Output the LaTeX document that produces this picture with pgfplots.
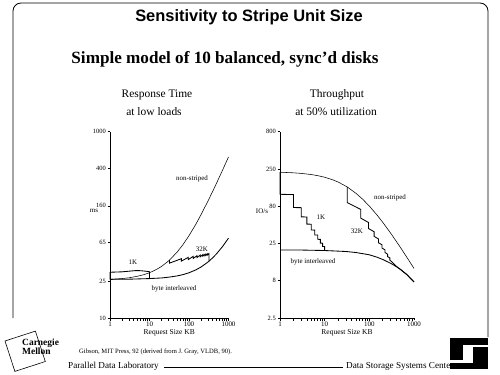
\documentclass[border=0pt]{standalone}
\usepackage{fontspec}
\setmainfont{Liberation Serif}
\newfontfamily\hel{Liberation Sans}
\usepackage{pgfplots}
\pgfplotsset{compat=1.18}
\newcommand{\fsz}[1]{\fontsize{#1}{#1}\selectfont}
\tikzset{
  lnthin/.style={black, line width=0.55bp, line join=round},
  lnmed/.style={black, line width=0.85bp, line join=miter},
}
\begin{document}
\begin{tikzpicture}
\fill[white] (0,0) rectangle (500bp,-375bp);
\useasboundingbox (0,0) rectangle (500bp,-375bp);
% slide border
\draw[black, line width=0.8bp] (13bp,-318bp) -- (13bp,-11bp) arc[start angle=180, end angle=90, radius=8bp] -- (480bp,-3bp) arc[start angle=90, end angle=0, radius=8bp] -- (488bp,-337bp);
% titles
\node at (249bp,-17bp) {\hel\bfseries\fsz{16.5}Sensitivity to Stripe Unit Size};
\node at (225bp,-59bp) {\bfseries\fsz{17.2}Simple model of 10 balanced, sync'd disks};
\node at (157bp,-95bp) {\fsz{11.5}Response Time};
\node at (154bp,-112bp) {\fsz{11.5}at low loads};
\node at (337bp,-95bp) {\fsz{11.5}Throughput};
\node at (336bp,-112bp) {\fsz{11.5}at 50\% utilization};

% ---------------- left: response time
\begin{loglogaxis}[at={(110bp,-318bp)}, anchor=south west,
  scale only axis, width=118.5bp, height=186.3bp,
  axis x line*=bottom, axis y line*=left,
  axis line style={black, line width=0.8pt},
  xmin=1, xmax=1000,
  xtick={1,10,100,1000}, xticklabels={1,10,100,1000},
  ymin=10, ymax=1000,
  ytick={10,25,65,160,400,1000}, yticklabels={10,25,65,160,400,1000},
  minor xtick={}, minor ytick={},
  tick align=outside, major tick length=2.5bp,
  tick style={black, line width=0.6pt},
  x tick label style={font=\fsz{7}, inner sep=1.5pt},
  y tick label style={font=\fsz{6.5}, inner sep=1.5pt},
  xlabel={Request Size KB},
  xlabel style={font=\fsz{7.5}, inner sep=1pt},
  clip=false]
% non-striped
\addplot[lnthin] coordinates {(1,26.0)(1.5,26.3)(2,26.5)(3,27.0)(5,28.1)(7,29.1)(10,30.6)(15,33.2)(20,35.7)(30,40.8)(32,41.8)(50,51.0)(70,61.2)(100,76.5)(150,102)(200,128)(300,179)(400,230)(500,281)(700,383)(1000,536)};
% byte interleaved
\addplot[lnmed] coordinates {(1,26.0)(3,26.1)(10,26.5)(20,26.9)(30,27.4)(50,28.3)(70,29.2)(100,30.6)(150,32.9)(200,35.2)(300,39.8)(320,40.7)(400,44.4)(500,49.0)(700,58.2)(1000,72.0)};
% 1K
\addplot[lnmed] coordinates {(1,26.0)(1,31.0)(2,31.3)(3,31.8)(4.5,32.3)(6,32.2)(8,31.8)(10,31.4)(10,26.5)};
% 32K
\addplot[lnmed] coordinates {(32,41.8)(32,38.8)(64,43.3)(64,40.8)(96,44.8)(96,42.4)(128,45.9)(128,43.6)(160,46.7)(160,44.6)(192,47.4)(192,45.4)(224,47.9)(224,46.1)(256,48.4)(256,46.7)(288,48.8)(288,47.2)(320,49.1)(320,40.7)};
\end{loglogaxis}

% ---------------- right: throughput
\begin{loglogaxis}[at={(280bp,-318bp)}, anchor=south west,
  scale only axis, width=134bp, height=186.3bp,
  axis x line*=bottom, axis y line*=left,
  axis line style={black, line width=0.8pt},
  xmin=1, xmax=1000,
  xtick={1,10,100,1000}, xticklabels={1,10,100,1000},
  ymin=2.5, ymax=800,
  ytick={2.5,8,25,80,250,800}, yticklabels={2.5,8,25,80,250,800},
  minor xtick={}, minor ytick={},
  tick align=outside, major tick length=2.5bp,
  tick style={black, line width=0.6pt},
  x tick label style={font=\fsz{7}, inner sep=1.5pt},
  y tick label style={font=\fsz{6.5}, inner sep=1.5pt},
  xlabel={Request Size KB},
  xlabel style={font=\fsz{7.5}, inner sep=1pt},
  clip=false]
% non-striped
\addplot[lnthin] coordinates {(1,228.2)(2,224)(3,220)(5,212.3)(7,205.2)(10,195.3)(15,180.8)(20,168.4)(30,147.9)(32,144.4)(50,119)(70,99.6)(100,80)(150,60.2)(200,48.3)(300,34.6)(500,22.1)(700,16.2)(1000,11.6)};
% byte interleaved
\addplot[lnmed] coordinates {(1,20.5)(3,20.5)(10,20.2)(30,19.6)(50,19.0)(100,17.7)(150,16.4)(200,15.3)(300,13.6)(400,12.3)(500,11.2)(700,9.5)(1000,7.6)};
% 1K
\addplot[lnmed] coordinates {(1,228.2)(1,115.2)(2,114.1)(2,76.5)(3,76.1)(3,57.3)(4,57.05)(4,45.8)(5,45.6)(5,38.15)(6,38.0)(6,32.7)(7,32.6)(7,28.6)(8,28.5)(8,25.4)(9,25.35)(9,22.86)(10,22.82)(10,20.2)};
% 32K
\addplot[lnmed] coordinates {(32,144.4)(32,89.1)(64,72.2)(64,55.1)(96,48.1)(96,39.9)(128,36.1)(128,31.3)(160,28.9)(160,25.7)(192,24.1)(192,21.8)(224,20.6)(224,19.0)(256,18.05)(256,16.75)(288,16.05)(288,15.0)(320,14.2)(360,13.2)(400,12.4)(500,11.25)(700,9.55)(1000,7.65)};
\end{loglogaxis}

% axis titles
\node at (94bp,-211bp) {\fsz{7}ms};
\node at (262bp,-211bp) {\fsz{7}IO/s};
% curve labels left
\node at (192bp,-179bp) {\fsz{7}non-striped};
\node at (133bp,-262bp) {\fsz{7}1K};
\node at (202bp,-249bp) {\fsz{7}32K};
\node at (174bp,-289bp) {\fsz{7}byte interleaved};
% curve labels right
\node at (390bp,-198bp) {\fsz{7}non-striped};
\node at (321bp,-217bp) {\fsz{7}1K};
\node at (357bp,-231bp) {\fsz{7}32K};
\node at (313bp,-262bp) {\fsz{7}byte interleaved};

% footer
\node[anchor=west, inner sep=0pt] at (79bp,-352bp) {\fsz{6.6}Gibson, MIT Press, 92 (derived from J. Gray, VLDB, 90).};
\node[anchor=west, inner sep=0pt] at (68bp,-366bp) {\fsz{9.2}Parallel Data Laboratory};
\draw[black, line width=0.5bp] (164bp,-367bp) -- (343bp,-367bp);
\node[anchor=west, inner sep=0pt] at (346bp,-366bp) {\fsz{9.2}Data Storage Systems Center};
% CMU logo
\draw[black, line width=0.6bp] (5bp,-341bp) -- (35.4bp,-331.1bp) -- (45.3bp,-361.5bp) -- (14.9bp,-371.4bp) -- cycle;
\node[anchor=west, inner sep=0pt] at (22bp,-343bp) {\bfseries\fsz{9.5}Carnegie};
\node[anchor=west, inner sep=0pt] at (22bp,-351bp) {\bfseries\fsz{9.5}Mellon};
% DSSC logo
\fill[black] (450bp,-338bp) rectangle (488bp,-345bp);
\fill[black] (450bp,-345bp) rectangle (463bp,-360bp);
\fill[black] (473bp,-347bp) rectangle (488bp,-369bp);
\fill[black] (450bp,-363bp) rectangle (488bp,-369bp);
\end{tikzpicture}
\end{document}
